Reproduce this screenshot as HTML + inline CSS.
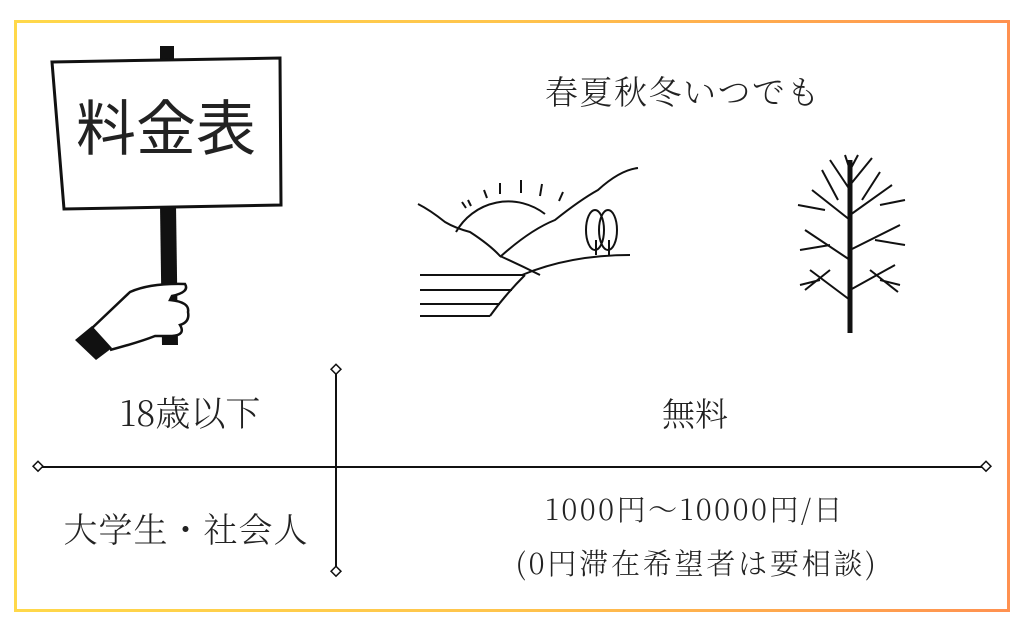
<!DOCTYPE html>
<html><head><meta charset="utf-8"><style>
body{margin:0;width:1024px;height:619px;background:#fff;overflow:hidden;position:relative;font-family:"Noto Serif CJK SC","Liberation Serif",serif;color:#222;font-weight:300}
.b{position:absolute;left:14px;top:20px;width:996px;height:592px;box-sizing:border-box;border:3px solid transparent;border-image:linear-gradient(90deg,#ffd84a,#ffc44c 50%,#ff9150) 1}
.t{position:absolute;white-space:nowrap;transform:translateX(-50%);line-height:1}
</style></head><body>
<div class="b"></div>
<svg width="1024" height="619" style="position:absolute;left:0;top:0" fill="none" stroke="#111">
<rect x="160" y="46" width="14" height="20" fill="#111" stroke="none"/>
<polygon points="160,205 176,205 178,345 162,345" fill="#111" stroke="none"/>
<path d="M52,62 L280,58 L281,205 L64,209 Z" stroke-width="3" fill="#fff"/>
<path d="M90,330 L130,292 Q150,283 185,284 Q190,292 172,296 L170,300 Q190,302 188,312 Q190,322 180,325 Q186,335 172,336 L155,336 Q140,342 110,350" stroke-width="2.5" fill="#fff"/>
<polygon points="75,340 92,326 112,348 96,360" fill="#111" stroke="none"/>
<path d="M418,204 Q430,210 445,222 Q455,228 470,232 Q490,245 500,256 Q520,265 540,275" stroke-width="2"/>
<path d="M456,232 A60,60 0 0 1 545,214" stroke-width="2"/>
<path d="M500,257 Q530,230 555,220 Q580,200 598,190 Q620,170 638,168" stroke-width="2"/>
<path d="M522,275 Q570,255 630,255" stroke-width="2"/>
<path d="M420,275 L525,275 M420,290 L512,290 M420,304 L500,304 M420,316 L490,316 M525,275 Q505,295 490,316" stroke-width="2"/>
<ellipse cx="595" cy="230" rx="9" ry="20" stroke-width="2"/><ellipse cx="608" cy="230" rx="9" ry="20" stroke-width="2"/>
<path d="M596,240 L596,255 M609,240 L609,255" stroke-width="2"/>
<path d="M462,202 L466,208 M468,200 L471,206 M484,190 L487,198 M500,183 L500,194 M521,180 L521,193 M542,184 L540,196 M563,192 L559,201" stroke-width="2"/>
<g stroke-width="2">
<path d="M850,333 L850,160" stroke-width="5"/>
<path d="M850,300 L810,270 M850,290 L895,265 M850,260 L805,230 M850,250 L900,225 M850,220 L812,190 M850,215 L892,185 M850,190 L830,160 M850,185 L872,158 M830,245 L800,250 M875,240 L905,245 M825,210 L798,205 M880,205 L905,200 M850,170 L845,155 M850,170 L858,155 M820,280 L800,285 M880,280 L900,285 M838,200 L822,170 M862,200 L880,172 M830,270 L805,290 M870,270 L898,292"/>
</g>
<line x1="38" y1="467" x2="986" y2="467" stroke-width="2"/>
<line x1="336" y1="370" x2="336" y2="572" stroke-width="2"/>
<g fill="#fff" stroke-width="1.5">
<rect x="34" y="463" width="7" height="7" transform="rotate(45 38 467)"/>
<rect x="982" y="463" width="7" height="7" transform="rotate(45 986 467)"/>
<rect x="332" y="366" width="7" height="7" transform="rotate(45 336 370)"/>
<rect x="332" y="568" width="7" height="7" transform="rotate(45 336 572)"/>
</g>
</svg>
<div class="t" style="left:166px;top:100px;font-size:60px;font-family:'Liberation Sans','Noto Sans CJK JP',sans-serif;font-weight:400;color:#222">料金表</div>
<div class="t" style="left:683px;top:74px;font-size:33px;letter-spacing:1.5px">春夏秋冬いつでも</div>
<div class="t" style="left:190px;top:395px;font-size:35px">18歳以下</div>
<div class="t" style="left:695px;top:396px;font-size:33px">無料</div>
<div class="t" style="left:186px;top:511px;font-size:34px;letter-spacing:1px">大学生・社会人</div>
<div class="t" style="left:695px;top:494px;font-size:29px;letter-spacing:2.5px">1000円～10000円/日</div>
<div class="t" style="left:697px;top:548px;font-size:29px;letter-spacing:2.8px">(0円滞在希望者は要相談)</div>
</body></html>
